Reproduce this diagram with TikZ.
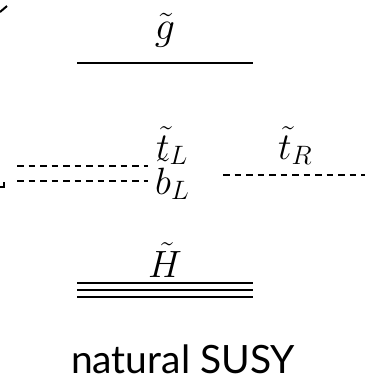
\RequirePackage{fix-cm}
\documentclass[tikz,border=0pt]{standalone}
\usepackage{fontspec}
\setsansfont{Lato}
\usetikzlibrary{positioning}

\begin{document}
\begin{tikzpicture}[x=1pt, y=-1pt]
  \tikzset{
    level/.style={line width=2.6pt, black},
    sqlevel/.style={line width=2.5pt, black, dash pattern=on 6.5pt off 5pt},
    lbl/.style={font=\fontsize{38}{44}\selectfont, inner sep=0pt, anchor=base},
    biglbl/.style={lbl, font=\fontsize{40}{46}\selectfont},
    caption/.style={font=\sffamily\fontsize{39}{45}\selectfont, inner sep=0pt, anchor=base},
    edgebit/.style={line width=2pt, black}
  }
  \useasboundingbox (0,0) rectangle (365,384);

  % gluino
  \draw[level] (77,63) coordinate (gl) -- (253,63) coordinate (gr);
  \node[biglbl] (gluino) at (165,39) {$\tilde{g}$};

  % stops and sbottom
  \draw[sqlevel] (17,166) coordinate (tll) -- (148,166) coordinate (tlr);
  \draw[sqlevel] (17,181) coordinate (bll) -- (148,181) coordinate (blr);
  \draw[sqlevel] (223,175) coordinate (trl) -- (365,175) coordinate (trr);
  \node[lbl, anchor=base west] (stopL) at (156,159) {$\tilde{t}_L$};
  \node[lbl, anchor=base west] (sbotL) at (155,194) {$\tilde{b}_L$};
  \node[lbl, anchor=base west] (stopR) at (278,159) {$\tilde{t}_R$};

  % higgsinos
  \foreach \yy in {283,290,297}
    \draw[level, line width=2.3pt] (77,\yy) -- (253,\yy);
  \node[biglbl, font=\fontsize{38}{44}\selectfont] (higgsino) at (165,277) {$\tilde{H}$};

  \node[caption] (title) at (183,373) {natural SUSY};

  % cut-off bits at the left edge
  \draw[edgebit] (0,12) -- (7,6);
  \draw[edgebit] (0,187) -- (4,187) -- (4,182);
\end{tikzpicture}
\end{document}
